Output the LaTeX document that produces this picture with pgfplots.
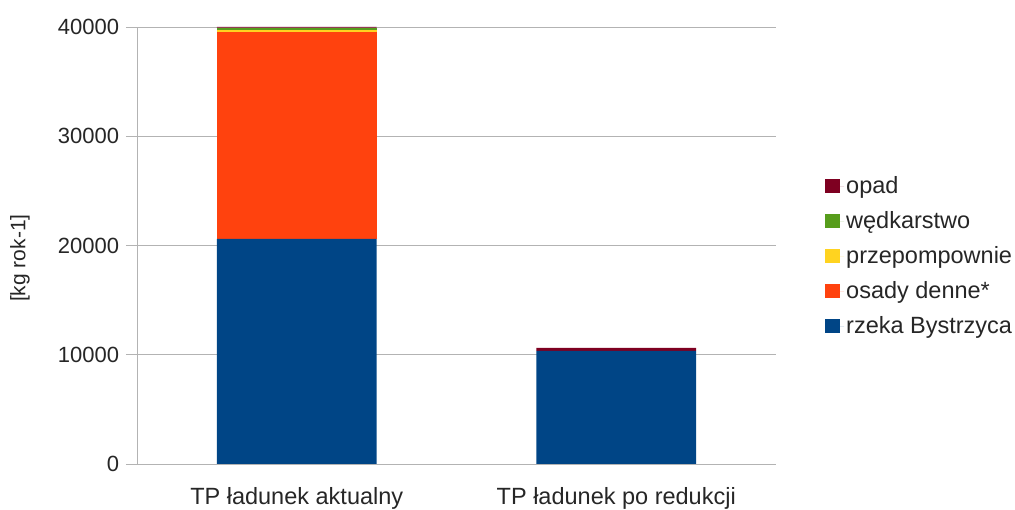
\documentclass[border=0pt]{standalone}
\usepackage{pgfplots}
\pgfplotsset{compat=1.18}
\usepackage{fontspec}
\setmainfont{Liberation Sans}
\definecolor{cBlue}{HTML}{004586}
\definecolor{cOrange}{HTML}{FF420E}
\definecolor{cYellow}{HTML}{FFD320}
\definecolor{cGreen}{HTML}{579D1C}
\definecolor{cRed}{HTML}{7E0021}
\definecolor{cGrid}{HTML}{B3B3B3}
\begin{document}
\fontsize{23bp}{27bp}\selectfont
\begin{tikzpicture}
\useasboundingbox (0,0) rectangle (1015bp,510bp);
\begin{axis}[
  at={(137bp,46bp)}, anchor=south west,
  scale only axis, width=639bp, height=437bp,
  ybar stacked, bar width=0.5,
  xmin=-0.5, xmax=1.5, ymin=0, ymax=40000,
  xtick={0,1},
  xticklabels={TP ładunek aktualny, TP ładunek po redukcji},
  x tick style={draw=none},
  extra x ticks={-0.5,0.5,1.5},
  extra x tick labels={},
  extra x tick style={tick style={draw=cGrid, line width=0.9bp}, major tick length=10bp, tick align=outside, grid=none},
  ytick={0,10000,20000,30000,40000},
  ymajorgrids, grid style={draw=cGrid, line width=0.9bp},
  axis x line*=bottom, axis y line*=left,
  axis line style={draw=cGrid, line width=0.9bp, -},
  y tick style={draw=cGrid, line width=0.9bp},
  tick align=outside, major tick length=11bp,
  scaled y ticks=false,
  /pgf/number format/1000 sep={},
  /pgf/number format/assume math mode=true,
  yticklabel style={font=\fontsize{22bp}{26bp}\selectfont, color=black!85, xshift=1bp},
  xticklabel style={font=\fontsize{23.5bp}{27bp}\selectfont, color=black!85, yshift=-5bp},
  ylabel={[kg rok-1]},
  every axis y label/.style={at={(axis description cs:-0.183,0.471)}, rotate=90, anchor=center, font=\fontsize{21bp}{25bp}\selectfont, color=black!85},
  legend style={at={(axis description cs:1.072,0.475)}, anchor=west, draw=none, fill=none,
    font=\fontsize{23.5bp}{27bp}\selectfont, text=black!85, row sep=10.5bp},
  legend cell align=left,
  legend image code/.code={\fill[#1] (0bp,-6.5bp) rectangle (15bp,7bp); \path (0bp,0bp) -- (19bp,0bp);},
  reverse legend,
]
\addplot[fill=cBlue, draw=none] coordinates {(0,20600) (1,10360)};
\addplot[fill=cOrange, draw=none] coordinates {(0,18900) (1,0)};
\addplot[fill=cYellow, draw=none] coordinates {(0,250) (1,0)};
\addplot[fill=cGreen, draw=none] coordinates {(0,200) (1,0)};
\addplot[fill=cRed, draw=none] coordinates {(0,50) (1,280)};
\legend{rzeka Bystrzyca, osady denne*, przepompownie, wędkarstwo, opad}
\end{axis}
\end{tikzpicture}
\end{document}
